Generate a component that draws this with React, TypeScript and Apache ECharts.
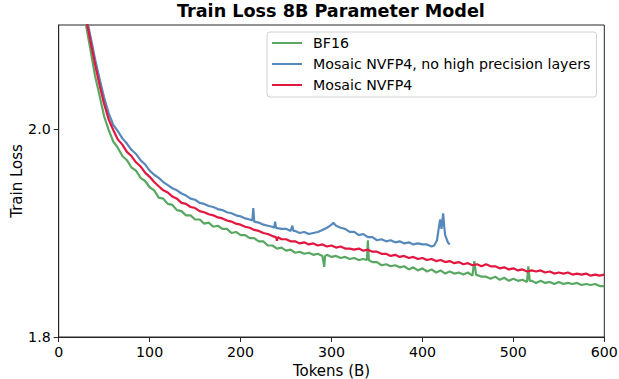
import React, { useEffect, useRef } from "react";
import * as echarts from "echarts";

const titleText = "Train Loss 8B Parameter Model";
const xAxisName = "Tokens (B)";
const yAxisName = "Train Loss";
const seriesNames = ["BF16", "Mosaic NVFP4, no high precision layers", "Mosaic NVFP4"];
const seriesColors = ["#58a862", "#5689bb", "#e2163f"];
const yTickValues = [1.8, 2.0];

const bf16Data: [number, number][] = [
  [27, 2.13], [30, 2.100], [35, 2.076], [40, 2.051], [45, 2.032], [50, 2.012], [55, 1.999], [60, 1.988],
  [65, 1.982], [70, 1.974], [75, 1.970], [80, 1.963], [85, 1.960], [90, 1.953], [95, 1.950], [100, 1.944],
  [105, 1.941], [110, 1.934], [115, 1.933], [120, 1.928], [125, 1.927], [130, 1.922], [135, 1.921],
  [140, 1.917], [145, 1.917], [150, 1.913], [155, 1.913], [160, 1.909], [165, 1.910], [170, 1.906],
  [175, 1.907], [180, 1.904], [185, 1.904], [190, 1.900], [195, 1.901], [200, 1.898], [205, 1.898],
  [210, 1.895], [215, 1.895], [220, 1.892], [225, 1.892], [230, 1.888], [235, 1.888], [240, 1.885],
  [245, 1.886], [250, 1.883], [255, 1.884], [260, 1.881], [265, 1.882], [270, 1.880], [275, 1.881],
  [280, 1.879], [285, 1.880], [290, 1.878], [292, 1.8675], [293, 1.878], [295, 1.879], [300, 1.877],
  [305, 1.878], [310, 1.876], [315, 1.877], [320, 1.875], [325, 1.876], [330, 1.874], [335, 1.875],
  [339, 1.874], [340, 1.893], [341, 1.874], [345, 1.872], [350, 1.872], [355, 1.869], [360, 1.870],
  [365, 1.868], [370, 1.869], [375, 1.867], [380, 1.868], [385, 1.865], [390, 1.867], [395, 1.864],
  [400, 1.866], [405, 1.863], [410, 1.865], [415, 1.862], [420, 1.864], [425, 1.861], [430, 1.863],
  [435, 1.861], [440, 1.862], [445, 1.860], [450, 1.862], [455, 1.859], [457, 1.873], [459, 1.860],
  [465, 1.858], [470, 1.858], [475, 1.856], [480, 1.858], [485, 1.855], [490, 1.857], [495, 1.854],
  [500, 1.856], [505, 1.854], [510, 1.855], [515, 1.853], [516.5, 1.868], [518, 1.854], [520, 1.854],
  [525, 1.852], [530, 1.854], [535, 1.852], [540, 1.853], [545, 1.851], [550, 1.853], [555, 1.851],
  [560, 1.852], [565, 1.851], [570, 1.852], [575, 1.850], [580, 1.851], [585, 1.850], [590, 1.851],
  [595, 1.849], [600, 1.849],
];

const noHighPrecisionData: [number, number][] = [
  [28, 2.15], [31, 2.105], [35, 2.089], [40, 2.067], [45, 2.048], [50, 2.030], [55, 2.015], [60, 2.004],
  [65, 1.998], [70, 1.991], [75, 1.986], [80, 1.980], [85, 1.976], [90, 1.970], [95, 1.966], [100, 1.960],
  [105, 1.956], [110, 1.953], [115, 1.949], [120, 1.946], [125, 1.943], [130, 1.941], [135, 1.938],
  [140, 1.936], [145, 1.933], [150, 1.932], [155, 1.929], [160, 1.928], [165, 1.926], [170, 1.925],
  [175, 1.923], [180, 1.922], [185, 1.920], [190, 1.919], [195, 1.917], [200, 1.916], [205, 1.914],
  [210, 1.913], [213, 1.912], [214, 1.924], [215, 1.911], [220, 1.910], [225, 1.908], [230, 1.907],
  [235, 1.906], [237, 1.905], [238, 1.911], [239, 1.905], [245, 1.904], [250, 1.904], [255, 1.902],
  [257, 1.907], [258, 1.902], [260, 1.902], [265, 1.900], [270, 1.901], [275, 1.899], [280, 1.900],
  [285, 1.901], [290, 1.903], [295, 1.905], [300, 1.908], [302, 1.910], [305, 1.907], [310, 1.905],
  [315, 1.904], [320, 1.901], [325, 1.901], [330, 1.898], [335, 1.899], [340, 1.896], [345, 1.896],
  [350, 1.893], [355, 1.894], [360, 1.892], [365, 1.893], [370, 1.891], [375, 1.892], [380, 1.890],
  [385, 1.891], [390, 1.889], [395, 1.890], [400, 1.889], [405, 1.889], [410, 1.887], [413, 1.888],
  [416, 1.893], [418, 1.905], [419.5, 1.913], [421, 1.904], [422.8, 1.919], [424, 1.906], [425, 1.898],
  [428, 1.891], [430, 1.889],
];

const nvfp4Data: [number, number][] = [
  [27, 2.14], [30, 2.107], [35, 2.084], [40, 2.062], [45, 2.042], [50, 2.024], [55, 2.009], [60, 1.999],
  [65, 1.990], [70, 1.985], [75, 1.978], [80, 1.974], [85, 1.968], [90, 1.964], [95, 1.958], [100, 1.954],
  [105, 1.949], [110, 1.945], [115, 1.941], [120, 1.939], [125, 1.935], [130, 1.933], [135, 1.929],
  [140, 1.928], [145, 1.925], [150, 1.924], [155, 1.921], [160, 1.920], [165, 1.918], [170, 1.917],
  [175, 1.915], [180, 1.914], [185, 1.912], [190, 1.911], [195, 1.909], [200, 1.908], [205, 1.906],
  [210, 1.905], [215, 1.903], [220, 1.902], [225, 1.900], [230, 1.899], [235, 1.897], [239, 1.896],
  [240, 1.8925], [241, 1.896], [245, 1.894], [250, 1.894], [255, 1.892], [260, 1.892], [265, 1.890],
  [270, 1.891], [275, 1.889], [280, 1.890], [285, 1.888], [290, 1.889], [295, 1.887], [300, 1.888],
  [305, 1.886], [310, 1.887], [315, 1.885], [320, 1.885], [325, 1.884], [330, 1.885], [335, 1.883],
  [340, 1.884], [345, 1.882], [350, 1.882], [355, 1.880], [360, 1.880], [365, 1.878], [370, 1.879],
  [375, 1.877], [380, 1.878], [385, 1.876], [390, 1.877], [395, 1.875], [400, 1.876], [405, 1.874],
  [410, 1.875], [415, 1.873], [420, 1.874], [425, 1.872], [430, 1.873], [435, 1.871], [440, 1.872],
  [445, 1.870], [450, 1.871], [455, 1.869], [460, 1.870], [465, 1.868], [470, 1.870], [475, 1.868],
  [480, 1.868], [485, 1.866], [490, 1.867], [495, 1.865], [500, 1.866], [505, 1.864], [510, 1.865],
  [515, 1.863], [520, 1.864], [525, 1.863], [530, 1.864], [535, 1.862], [540, 1.863], [545, 1.861],
  [550, 1.862], [555, 1.861], [560, 1.862], [565, 1.860], [570, 1.861], [575, 1.860], [580, 1.861],
  [585, 1.859], [590, 1.860], [595, 1.859], [600, 1.860],
];

const FONT = "DejaVu Sans";

export default function App() {
  const ref = useRef<HTMLDivElement>(null);
  useEffect(() => {
    if (!ref.current) return;
    const chart = echarts.init(ref.current, null, { renderer: "svg" });
    const datasets = [bf16Data, noHighPrecisionData, nvfp4Data];
    chart.setOption({
      animation: false,
      backgroundColor: "#ffffff",
      textStyle: { fontFamily: FONT },
      title: {
        text: titleText,
        left: 177,
        top: 2,
        padding: 0,
        textStyle: { fontFamily: FONT, fontWeight: "bold", fontSize: 17.6, color: "#000" },
      },
      legend: {
        orient: "vertical",
        left: 267,
        top: 32,
        padding: [3, 6, 4, 5],
        itemGap: 5,
        itemWidth: 30,
        itemHeight: 2,
        icon: "rect",
        borderColor: "#d0d0d0",
        borderWidth: 1,
        borderRadius: 3,
        backgroundColor: "rgba(255,255,255,0.8)",
        textStyle: { fontFamily: FONT, fontSize: 14.2, color: "#000", lineHeight: 16, padding: [0, 0, 0, 6] },
        data: seriesNames,
      },
      grid: {
        left: 58.7,
        right: 14.7,
        top: 25,
        bottom: 42,
        containLabel: false,
        outerBoundsMode: "none",
        show: true,
        borderColor: "#262626",
        borderWidth: 1,
        backgroundColor: "transparent",
      },
      xAxis: {
        type: "value",
        min: 0,
        max: 600,
        interval: 100,
        name: xAxisName,
        nameLocation: "middle",
        nameGap: 25.5,
        nameMoveOverlap: false,
        nameTextStyle: { fontFamily: FONT, fontSize: 15, color: "#000", lineHeight: 16 },
        axisLine: { show: true, lineStyle: { color: "#262626", width: 1 } },
        axisTick: { show: true, length: 5, inside: false, lineStyle: { color: "#262626" } },
        axisLabel: { fontFamily: FONT, fontSize: 14.2, color: "#000", margin: 8 },
        splitLine: { show: false },
      },
      yAxis: {
        type: "value",
        min: 1.8,
        max: 2.1,
        interval: 0.2,
        name: yAxisName,
        nameLocation: "middle",
        nameGap: 34,
        nameMoveOverlap: false,
        nameTextStyle: { fontFamily: FONT, fontSize: 15, color: "#000", lineHeight: 16 },
        axisLine: { show: true, lineStyle: { color: "#262626", width: 1 } },
        axisTick: { show: true, length: 5, inside: false, customValues: yTickValues, lineStyle: { color: "#262626" } },
        axisLabel: {
          fontFamily: FONT,
          fontSize: 14.2,
          color: "#000",
          margin: 8,
          customValues: yTickValues,
          formatter: (v: number) => v.toFixed(1),
        },
        splitLine: { show: false },
      },
      series: datasets.map((d, i) => ({
        name: seriesNames[i],
        type: "line",
        data: d,
        showSymbol: false,
        symbol: "none",
        clip: true,
        color: seriesColors[i],
        lineStyle: { width: 2.2, color: seriesColors[i] },
        z: 2 + i,
      })),
    });
    return () => chart.dispose();
  }, []);
  return (
    <div
      ref={ref}
      style={{ position: "fixed", left: 0, top: 0, width: 619, height: 379, background: "#fff" }}
    />
  );
}
